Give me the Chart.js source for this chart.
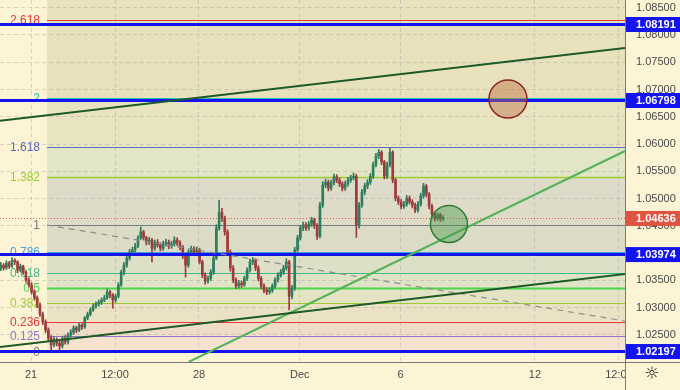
<!DOCTYPE html>
<html>
<head>
<meta charset="utf-8">
<script src="https://cdn.jsdelivr.net/npm/chart.js@4.4.1/dist/chart.umd.min.js"></script>
<style>
html, body { margin: 0; padding: 0; background: #fdf3d5; }
#wrap { width: 680px; height: 390px; position: relative; }
</style>
</head>
<body>
<div id="wrap"><canvas id="c"></canvas></div>
<script>
// EURUSD, 2h candles. Time axis in trading days, 0 = Nov 21 00:00
const firstCandle = -0.90;
const candleStep = 1 / 12;
const firstOpen = 1.0372;

const closes = [
    1.0378, 1.0373, 1.0382, 1.0376, 1.0387, 1.0384, 1.0369, 1.0376, 1.0365, 1.0351,
    1.0342, 1.0329, 1.0318, 1.0305, 1.0288, 1.0274, 1.0259, 1.0244, 1.0232, 1.0241,
    1.0235, 1.0230, 1.0244, 1.0237, 1.0250, 1.0255, 1.0263, 1.0259, 1.0268, 1.0265,
    1.0281, 1.0288, 1.0296, 1.0303, 1.0307, 1.0310, 1.0314, 1.0318, 1.0329, 1.0323,
    1.0314, 1.0321, 1.0342, 1.0365, 1.0378, 1.0391, 1.0402, 1.0406, 1.0413, 1.0428,
    1.0439, 1.0428, 1.0420, 1.0424, 1.0409, 1.0420, 1.0415, 1.0409, 1.0417, 1.0420,
    1.0413, 1.0417, 1.0424, 1.0419, 1.0411, 1.0395, 1.0378, 1.0402, 1.0408, 1.0402,
    1.0406, 1.0384, 1.0360, 1.0349, 1.0354, 1.0365, 1.0391, 1.0446, 1.0475, 1.0464,
    1.0439, 1.0402, 1.0373, 1.0351, 1.0340, 1.0345, 1.0342, 1.0354, 1.0369, 1.0384,
    1.0387, 1.0373, 1.0354, 1.0340, 1.0332, 1.0329, 1.0332, 1.0340, 1.0351, 1.0360,
    1.0365, 1.0373, 1.0384, 1.0321, 1.0336, 1.0406, 1.0428, 1.0446, 1.0452, 1.0446,
    1.0453, 1.0461, 1.0450, 1.0431, 1.0488, 1.0525, 1.0530, 1.0519, 1.0529, 1.0540,
    1.0534, 1.0527, 1.0519, 1.0527, 1.0534, 1.0538, 1.0541, 1.0452, 1.0488, 1.0512,
    1.0523, 1.0530, 1.0541, 1.0562, 1.0578, 1.0585, 1.0567, 1.0541, 1.0562, 1.0585,
    1.0534, 1.0501, 1.0494, 1.0486, 1.0490, 1.0501, 1.0494, 1.0488, 1.0479, 1.0490,
    1.0505, 1.0523, 1.0508, 1.0486, 1.0472, 1.0464, 1.0470, 1.0463, 1.04636
];
const highs = [
    1.0383, 1.0381, 1.0386, 1.0385, 1.0392, 1.0390, 1.0386, 1.0380, 1.0378, 1.0368,
    1.0355, 1.0346, 1.0333, 1.0322, 1.0309, 1.0292, 1.0278, 1.0263, 1.0249, 1.0246,
    1.0245, 1.0240, 1.0248, 1.0249, 1.0254, 1.0260, 1.0267, 1.0266, 1.0272, 1.0271,
    1.0284, 1.0292, 1.0300, 1.0307, 1.0311, 1.0314, 1.0318, 1.0323, 1.0334, 1.0332,
    1.0326, 1.0325, 1.0346, 1.0369, 1.0383, 1.0395, 1.0407, 1.0411, 1.0418, 1.0432,
    1.0448, 1.0442, 1.0431, 1.0429, 1.0427, 1.0424, 1.0425, 1.0419, 1.0422, 1.0426,
    1.0424, 1.0422, 1.0430, 1.0428, 1.0423, 1.0414, 1.0399, 1.0406, 1.0413, 1.0412,
    1.0411, 1.0409, 1.0387, 1.0364, 1.0358, 1.0370, 1.0396, 1.0452, 1.0497, 1.0482,
    1.0468, 1.0443, 1.0406, 1.0377, 1.0355, 1.0350, 1.0349, 1.0358, 1.0373, 1.0389,
    1.0392, 1.0390, 1.0377, 1.0357, 1.0344, 1.0337, 1.0337, 1.0344, 1.0355, 1.0364,
    1.0370, 1.0378, 1.0390, 1.0387, 1.0341, 1.0411, 1.0433, 1.0451, 1.0457, 1.0456,
    1.0458, 1.0466, 1.0464, 1.0454, 1.0493, 1.0531, 1.0536, 1.0534, 1.0534, 1.0545,
    1.0544, 1.0538, 1.0531, 1.0532, 1.0539, 1.0543, 1.0547, 1.0545, 1.0493, 1.0517,
    1.0528, 1.0535, 1.0546, 1.0567, 1.0583, 1.0590, 1.0588, 1.0570, 1.0567, 1.0594,
    1.0588, 1.0537, 1.0505, 1.0498, 1.0495, 1.0506, 1.0505, 1.0498, 1.0492, 1.0495,
    1.0510, 1.0528, 1.0526, 1.0511, 1.0490, 1.0476, 1.0474, 1.0473, 1.0469
];
const lows = [
    1.0368, 1.0369, 1.0370, 1.0372, 1.0374, 1.0379, 1.0364, 1.0366, 1.0361, 1.0347,
    1.0338, 1.0325, 1.0314, 1.0300, 1.0284, 1.0269, 1.0254, 1.0239, 1.0222, 1.0228,
    1.0230, 1.0222, 1.0226, 1.0233, 1.0233, 1.0246, 1.0251, 1.0254, 1.0256, 1.0260,
    1.0262, 1.0278, 1.0285, 1.0293, 1.0299, 1.0303, 1.0306, 1.0311, 1.0315, 1.0318,
    1.0299, 1.0310, 1.0318, 1.0339, 1.0360, 1.0374, 1.0387, 1.0397, 1.0402, 1.0410,
    1.0425, 1.0424, 1.0415, 1.0416, 1.0384, 1.0405, 1.0411, 1.0404, 1.0405, 1.0413,
    1.0408, 1.0409, 1.0413, 1.0414, 1.0406, 1.0390, 1.0356, 1.0374, 1.0398, 1.0397,
    1.0398, 1.0380, 1.0355, 1.0343, 1.0345, 1.0350, 1.0361, 1.0388, 1.0442, 1.0458,
    1.0433, 1.0397, 1.0367, 1.0346, 1.0335, 1.0336, 1.0337, 1.0339, 1.0350, 1.0365,
    1.0379, 1.0368, 1.0349, 1.0335, 1.0327, 1.0324, 1.0325, 1.0328, 1.0336, 1.0347,
    1.0356, 1.0361, 1.0369, 1.0296, 1.0316, 1.0332, 1.0402, 1.0424, 1.0441, 1.0441,
    1.0442, 1.0449, 1.0445, 1.0425, 1.0428, 1.0484, 1.0520, 1.0514, 1.0515, 1.0525,
    1.0529, 1.0522, 1.0514, 1.0515, 1.0523, 1.0530, 1.0534, 1.0429, 1.0446, 1.0484,
    1.0507, 1.0518, 1.0526, 1.0537, 1.0558, 1.0573, 1.0562, 1.0536, 1.0537, 1.0558,
    1.0529, 1.0496, 1.0489, 1.0481, 1.0482, 1.0486, 1.0490, 1.0483, 1.0474, 1.0475,
    1.0486, 1.0501, 1.0503, 1.0481, 1.0467, 1.0459, 1.0460, 1.0458, 1.0459
];

const yTicks = [1.025, 1.03, 1.035, 1.04, 1.045, 1.05, 1.055, 1.06, 1.065, 1.07, 1.075, 1.08, 1.085];
const xTicks = [0, 2.5, 5, 8, 11, 15, 17.5];
const xTickLabels = ['21', '12:00', '28', 'Dec', '6', '12', '12:00'];

// Fibonacci retracement anchored at 1.02197 (0) and 1.04516 (1)
const fibStart = 0.476;
const fibLow = 1.02197;
const fibHigh = 1.04516;
const fibLevels = [0, 0.125, 0.236, 0.382, 0.5, 0.618, 0.786, 1, 1.382, 1.618, 2, 2.618];
const fibLabels = ['0', '0.125', '0.236', '0.382', '0.5', '0.618', '0.786', '1', '1.382', '1.618', '2', '2.618'];
const fibColors = ['#787b86', '#9575cd', '#e53935', '#9ccc30', '#4cd44c', '#3dbb8a', '#3ea0e0', '#787b86', '#9acd32', '#5c6bc0', '#2bbfa5', '#e53935'];
const fibFills = ['#f6e3cf', '#f1dcc8', '#ebe1c5', '#e4e3c4', '#e0e3c6', '#dde0c6', '#dcdbc6', '#dedcc8', '#e3e5c7', '#e8e4bf', '#e7e2bb'];
const fibTopFill = '#e8e3bc';

const priceLines = [1.08191, 1.06798, 1.03974, 1.02197];
const lastPrice = 1.04636;

const xMin = -0.923, xMax = 17.68;
const trendUpper = [{ x: xMin, y: 1.06427 }, { x: xMax, y: 1.0776 }];
const trendLower = [{ x: xMin, y: 1.0228 }, { x: xMax, y: 1.03618 }];
const trendSteep = [{ x: 4.69, y: 1.02005 }, { x: xMax, y: 1.05872 }];
const trendDashed = [{ x: fibStart, y: fibHigh }, { x: xMax, y: 1.02756 }];
const brownCircle = [{ x: 14.196, y: 1.06825 }];
const greenCircle = [{ x: 12.44, y: 1.04534 }];

const upColor = '#2f7d5f';
const downColor = '#9e3b3b';

const opens = [firstOpen].concat(closes.slice(0, -1));
const times = closes.map((_, i) => firstCandle + i * candleStep);
const wickData = times.map((t, i) => ({ x: t, y: [lows[i], highs[i]] }));
const bodyData = times.map((t, i) => ({ x: t, y: [opens[i], closes[i]] }));
const candleColor = c => closes[c.dataIndex] >= opens[c.dataIndex] ? upColor : downColor;
const flatLine = p => [{ x: xMin, y: p }, { x: xMax, y: p }];

const fibPrice = l => fibLow + l * (fibHigh - fibLow);

const drawingsPlugin = {
    id: 'drawings',
    beforeDraw(chart) {
        const { ctx, chartArea: a, scales: { x, y } } = chart;
        ctx.save();
        ctx.fillStyle = '#fdf3d5';
        ctx.fillRect(0, 0, chart.width, chart.height);
        const x0 = x.getPixelForValue(fibStart);
        const px = fibLevels.map(l => y.getPixelForValue(fibPrice(l)));
        ctx.fillStyle = fibTopFill;
        ctx.fillRect(x0, a.top, a.right - x0, px[px.length - 1] - a.top);
        for (let i = 0; i < fibLevels.length - 1; i++) {
            ctx.fillStyle = fibFills[i];
            ctx.fillRect(x0, px[i + 1], a.right - x0, px[i] - px[i + 1]);
        }
        ctx.restore();
    },
    beforeDatasetsDraw(chart) {
        const { ctx, chartArea: a, scales: { x, y } } = chart;
        ctx.save();
        const x0 = x.getPixelForValue(fibStart);
        ctx.font = '12px "Liberation Sans", Arial, sans-serif';
        ctx.textAlign = 'right';
        ctx.textBaseline = 'middle';
        fibLevels.forEach((l, i) => {
            const py = Math.round(y.getPixelForValue(fibPrice(l))) + 0.5;
            ctx.strokeStyle = fibColors[i];
            ctx.lineWidth = (l === 0.5) ? 2 : (l === 1.382 ? 1.5 : 1);
            ctx.beginPath();
            ctx.moveTo(x0, py);
            ctx.lineTo(a.right, py);
            ctx.stroke();
            ctx.fillStyle = fibColors[i];
            ctx.fillText(fibLabels[i], x0 - 7, py);
        });
        // last price dotted line
        const ly = Math.round(y.getPixelForValue(lastPrice)) + 0.5;
        ctx.strokeStyle = '#e0604a';
        ctx.lineWidth = 1;
        ctx.setLineDash([1, 2]);
        ctx.beginPath();
        ctx.moveTo(a.left, ly);
        ctx.lineTo(a.right, ly);
        ctx.stroke();
        ctx.restore();
    },
    afterDraw(chart) {
        const { ctx, chartArea: a, scales: { y } } = chart;
        ctx.save();
        // corner below the price scale
        ctx.fillStyle = '#fdf3d5';
        ctx.fillRect(a.right + 1, a.bottom + 1, chart.width - a.right, chart.height - a.bottom);
        ctx.strokeStyle = '#7a7a7a';
        ctx.lineWidth = 1;
        ctx.beginPath();
        ctx.moveTo(a.right + 0.5, 0);
        ctx.lineTo(a.right + 0.5, chart.height);
        ctx.moveTo(0, a.bottom + 0.5);
        ctx.lineTo(chart.width, a.bottom + 0.5);
        ctx.stroke();
        ctx.fillStyle = '#222';
        ctx.font = '17px "DejaVu Sans", sans-serif';
        ctx.textAlign = 'center';
        ctx.textBaseline = 'middle';
        ctx.fillText('\u263C', a.right + 27, a.bottom + 13);

        // price labels on the scale
        ctx.font = 'bold 11px "Liberation Sans", Arial, sans-serif';
        ctx.textAlign = 'left';
        const boxes = priceLines.map(p => [p, '#1414f0']).concat([[lastPrice, '#df5440']]);
        boxes.forEach(([p, col]) => {
            const py = y.getPixelForValue(p);
            ctx.fillStyle = col;
            ctx.fillRect(a.right + 1, py - 7.5, chart.width - a.right - 1, 15);
            ctx.fillStyle = '#ffffff';
            ctx.fillText(p.toFixed(5), a.right + 11, py + 0.5);
        });
        ctx.restore();
    }
};

new Chart(document.getElementById('c'), {
    type: 'bar',
    data: {
        datasets: [
            {
                type: 'bubble',
                data: brownCircle,
                radius: 19,
                backgroundColor: 'rgba(190, 110, 70, 0.45)',
                borderColor: '#8b2323',
                borderWidth: 1.5,
                order: 0
            },
            {
                type: 'bubble',
                data: greenCircle,
                radius: 18.5,
                backgroundColor: 'rgba(70, 150, 70, 0.42)',
                borderColor: '#2e7d32',
                borderWidth: 1.5,
                order: 0
            },
            { type: 'line', data: trendUpper, borderColor: '#1e5a28', borderWidth: 2, pointRadius: 0, order: 1 },
            { type: 'line', data: trendLower, borderColor: '#1e5a28', borderWidth: 2, pointRadius: 0, order: 1 },
            { type: 'line', data: trendSteep, borderColor: '#55b25a', borderWidth: 2, pointRadius: 0, order: 1 },
            { type: 'line', data: trendDashed, borderColor: '#8e8e8e', borderWidth: 1.2, borderDash: [6, 5], pointRadius: 0, order: 1 },
            ...priceLines.map(p => ({
                type: 'line', data: flatLine(p), borderColor: '#1414f0', borderWidth: 3, pointRadius: 0, order: 2
            })),
            {
                data: bodyData,
                backgroundColor: candleColor,
                barThickness: 2,
                minBarLength: 1,
                grouped: false,
                order: 3
            },
            {
                data: wickData,
                backgroundColor: candleColor,
                barThickness: 1,
                grouped: false,
                order: 4
            }
        ]
    },
    options: {
        responsive: true,
        maintainAspectRatio: false,
        animation: false,
        layout: { padding: 0, autoPadding: false },
        scales: {
            x: {
                type: 'linear',
                min: xMin,
                max: xMax,
                offset: false,
                afterBuildTicks: s => { s.ticks = xTicks.map(v => ({ value: v })); },
                afterFit: s => {
                    s.height = 28;
                    s.paddingLeft = 0; s.paddingRight = 0; s.paddingTop = 0; s.paddingBottom = 0;
                },
                grid: { offset: false, color: 'rgba(140, 150, 165, 0.35)', drawTicks: false },
                border: { display: false, dash: [4, 3] },
                ticks: {
                    callback: (v, i) => xTickLabels[i],
                    autoSkip: false,
                    maxRotation: 0,
                    padding: 6,
                    color: '#4a4a4a',
                    font: { family: '"Liberation Sans", Arial, sans-serif', size: 11 }
                }
            },
            y: {
                position: 'right',
                min: 1.02005,
                max: 1.0864,
                beginAtZero: false,
                afterBuildTicks: s => { s.ticks = yTicks.map(v => ({ value: v })); },
                afterFit: s => {
                    s.width = 55;
                    s.paddingLeft = 0; s.paddingRight = 0; s.paddingTop = 0; s.paddingBottom = 0;
                },
                grid: { color: 'rgba(140, 150, 165, 0.35)', drawTicks: false },
                border: { display: false, dash: [4, 3] },
                ticks: {
                    callback: v => v.toFixed(5),
                    padding: 11,
                    color: '#4a4a4a',
                    font: { family: '"Liberation Sans", Arial, sans-serif', size: 11 }
                }
            }
        },
        plugins: {
            legend: { display: false },
            tooltip: { enabled: false }
        }
    },
    plugins: [drawingsPlugin]
});
</script>
</body>
</html>
